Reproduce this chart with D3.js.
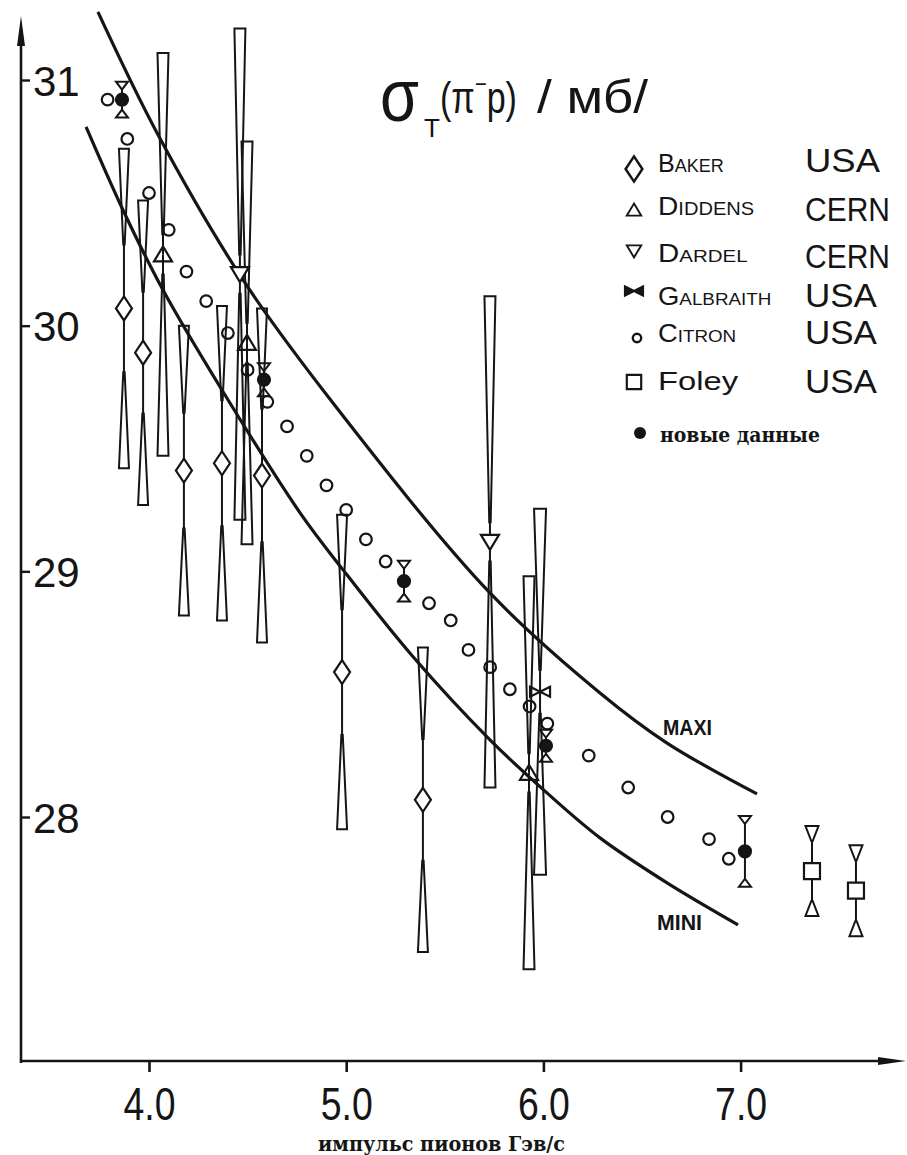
<!DOCTYPE html>
<html><head><meta charset="utf-8">
<script src="https://cdn.jsdelivr.net/npm/d3@7"></script>
<style>body{margin:0;background:#fff} svg{display:block}</style>
</head><body><svg id="c" width="907" height="1155"></svg>
<script>
// ---------- data ----------
const yTicks = [28, 29, 30, 31];
const yTickLabels = ["28", "29", "30", "31"];
const xTicks = [4, 5, 6, 7];
const xTickLabels = ["4.0", "5.0", "6.0", "7.0"];

const bakerP = [3.873, 3.970, 4.177, 4.370, 4.573, 4.979, 5.389];
const bakerS = [30.07, 29.89, 29.41, 29.44, 29.39, 28.59, 28.07];
const bakerE = [0.65, 0.62, 0.59, 0.64, 0.68, 0.64, 0.62];

const diddensP = [4.071, 4.497, 5.927];
const diddensS = [30.29, 29.93, 28.18];
const diddensE = [0.82, 0.82, 0.80];

const dardelP = [4.461, 5.729];
const dardelS = [30.21, 29.12];
const dardelE = [1.00, 1.00];

const galbraithP = [5.983];
const galbraithS = [28.51];
const galbraithE = [0.745];

const citronP = [3.79, 3.89, 4.00, 4.10, 4.19, 4.29, 4.40, 4.50, 4.60, 4.70, 4.80, 4.90, 5.00, 5.10, 5.20,
                 5.42, 5.53, 5.62, 5.73, 5.83, 5.93, 6.02, 6.23, 6.43, 6.63, 6.84, 6.94];
const citronS = [30.92, 30.76, 30.54, 30.39, 30.22, 30.10, 29.97, 29.82, 29.69, 29.59, 29.47, 29.35, 29.25, 29.13, 29.04,
                 28.87, 28.80, 28.68, 28.61, 28.52, 28.45, 28.38, 28.25, 28.12, 28.00, 27.91, 27.83];

const foleyP = [7.362, 7.585];
const foleyS = [27.78, 27.70];
const foleyE = [0.183, 0.185];

const newP = [3.863, 4.583, 5.293, 6.013, 7.022];
const newS = [30.92, 29.78, 28.96, 28.29, 27.86];
const newE = [0.073, 0.067, 0.083, 0.065, 0.144];

const maxiP = [3.741, 4.041, 4.477, 4.933, 5.729, 6.287, 6.627, 7.083];
const maxiS = [31.277, 30.784, 30.186, 29.685, 28.912, 28.505, 28.301, 28.094];
const miniP = [3.681, 3.868, 4.071, 4.370, 4.766, 4.984, 5.339, 5.729, 6.018, 6.287, 6.627, 6.987];
const miniS = [30.809, 30.471, 30.145, 29.738, 29.238, 29.006, 28.652, 28.314, 28.098, 27.915, 27.732, 27.561];

const legendNames = ["Baker", "Diddens", "Dardel", "Galbraith", "Citron", "Foley"];
const legendLabs = ["USA", "CERN", "CERN", "USA", "USA", "USA"];
const newDataLabel = "новые данные";
const xTitle = "импульс пионов Гэв/с";

// ---------- drawing ----------
const INK = "#151515";
const svg = d3.select("#c");
svg.append("rect").attr("width", 907).attr("height", 1155).attr("fill", "#fff");

const x = d3.scaleLinear().domain([4, 7]).range([149, 740.6]);
const y = d3.scaleLinear().domain([28, 31]).range([817, 80]);
const AX = 21, AY = 1061;
const font = "'Liberation Sans', Arial, sans-serif";

// squeeze a text horizontally to a given width (keeps glyph height)
function fit(sel, w) {
  const n = sel.node().getComputedTextLength();
  const x0 = +sel.attr("x"), y0 = +sel.attr("y");
  sel.attr("x", 0).attr("y", 0)
    .attr("transform", `translate(${x0},${y0}) scale(${(w / n).toFixed(4)},1)`);
  return sel;
}

// axes lines with arrows
svg.append("line").attr("x1", AX).attr("y1", AY + 2).attr("x2", AX).attr("y2", 30)
  .attr("stroke", INK).attr("stroke-width", 2.6);
svg.append("path").attr("d", `M${AX},16L${AX + 4},46L${AX - 4},46Z`).attr("fill", INK);
svg.append("line").attr("x1", AX - 1).attr("y1", AY).attr("x2", 885).attr("y2", AY)
  .attr("stroke", INK).attr("stroke-width", 2.6);
svg.append("path").attr("d", `M906,${AY}L878,${AY - 4}L878,${AY + 4}Z`).attr("fill", INK);

const yAxis = svg.append("g").attr("transform", `translate(${AX},0)`)
  .call(d3.axisRight(y).tickValues(yTicks).tickSize(9).tickPadding(3)
    .tickFormat((d, i) => yTickLabels[i]));
yAxis.select(".domain").remove();
yAxis.selectAll(".tick line").attr("stroke", INK).attr("stroke-width", 2.4);
yAxis.selectAll(".tick text").attr("font-family", font).attr("font-size", 42)
  .attr("fill", INK).attr("dy", "0.36em");

const xAxis = svg.append("g").attr("transform", `translate(0,${AY})`)
  .call(d3.axisBottom(x).tickValues(xTicks).tickSize(11).tickPadding(15)
    .tickFormat((d, i) => xTickLabels[i]));
xAxis.select(".domain").remove();
xAxis.selectAll(".tick line").attr("stroke", INK).attr("stroke-width", 2.6);
xAxis.selectAll(".tick text").attr("font-family", font).attr("font-size", 46)
  .attr("fill", INK).attr("textLength", 52).attr("lengthAdjust", "spacingAndGlyphs");

// theory curves
const line = d3.line().x(d => x(d[0])).y(d => y(d[1])).curve(d3.curveCatmullRom.alpha(0.5));
svg.append("path").attr("d", line(maxiP.map((p, i) => [p, maxiS[i]])))
  .attr("fill", "none").attr("stroke", INK).attr("stroke-width", 3.2);
svg.append("path").attr("d", line(miniP.map((p, i) => [p, miniS[i]])))
  .attr("fill", "none").attr("stroke", INK).attr("stroke-width", 3.2);

fit(svg.append("text").attr("x", 663).attr("y", 735).text("MAXI")
  .attr("font-family", font).attr("font-weight", "bold").attr("font-size", 22).attr("fill", INK), 49);
fit(svg.append("text").attr("x", 657).attr("y", 930).text("MINI")
  .attr("font-family", font).attr("font-weight", "bold").attr("font-size", 22).attr("fill", INK), 45);

function zip(P, S, E) { return P.map((p, i) => ({ p, s: S[i], e: E ? E[i] : 0 })); }

const gBars = svg.append("g").attr("stroke", INK).attr("fill", "none")
  .attr("stroke-width", 2).attr("stroke-linejoin", "miter");

function errBars(data, capW, wedge) {
  data.forEach(d => {
    const cx = x(d.p), cy = y(d.s);
    [d.s + d.e, d.s - d.e].forEach(v => {
      const ye = y(v);
      const len = cy - ye;
      const wl = wedge(Math.abs(len)) * Math.sign(len);
      const yc = ye + wl;
      gBars.append("path")
        .attr("d", `M${cx - capW / 2},${ye}L${cx + capW / 2},${ye}L${cx + 0.7},${yc}L${cx - 0.7},${yc}Z`);
      gBars.append("line").attr("x1", cx).attr("y1", yc).attr("x2", cx).attr("y2", cy);
    });
  });
}

const baker = zip(bakerP, bakerS, bakerE);
const diddens = zip(diddensP, diddensS, diddensE);
const dardel = zip(dardelP, dardelS, dardelE);
const galbraith = zip(galbraithP, galbraithS, galbraithE);
const citron = zip(citronP, citronS);
const foley = zip(foleyP, foleyS, foleyE);
const fresh = zip(newP, newS, newE);

errBars(baker, 10, L => 0.6 * L);
errBars(diddens, 11, L => 0.9 * L);
errBars(dardel, 11, L => 0.92 * L);
errBars(galbraith, 12, L => 0.88 * L);
errBars(foley, 13, L => 15);
errBars(fresh, 12, L => 7);

// marker shapes
const shapes = {
  diamond: "M0,-12L8,0L0,12L-8,0Z",
  up: "M0,-8L9,7L-9,7Z",
  down: "M0,8L9,-7L-9,-7Z",
  bow: "M-10,-5L10,5L10,-5L-10,5Z",
  square: "M-8,-8L8,-8L8,8L-8,8Z"
};
const gM = svg.append("g").attr("stroke", INK).attr("stroke-width", 2.2);
function markers(data, shape, fill) {
  gM.selectAll(null).data(data).enter().append("path")
    .attr("d", shapes[shape])
    .attr("transform", d => `translate(${x(d.p)},${y(d.s)})`)
    .attr("fill", fill);
}
markers(baker, "diamond", "#fff");
markers(diddens, "up", "none");
markers(dardel, "down", "#fff");
markers(galbraith, "bow", "none");
markers(foley, "square", "#fff");
gM.selectAll(null).data(citron).enter().append("circle")
  .attr("cx", d => x(d.p)).attr("cy", d => y(d.s)).attr("r", 5.8).attr("fill", "none");
gM.selectAll(null).data(fresh).enter().append("circle")
  .attr("cx", d => x(d.p)).attr("cy", d => y(d.s)).attr("r", 6).attr("fill", INK);

// title  σ_T(π⁻p) /мб/
fit(svg.append("text").attr("x", 380).attr("y", 121).attr("fill", INK)
  .attr("font-family", font).attr("font-size", 74).text("σ"), 39);
svg.append("text").attr("x", 424).attr("y", 137).attr("fill", INK)
  .attr("font-family", font).attr("font-size", 26).text("T");
const par = svg.append("text").attr("x", 440).attr("y", 113).attr("fill", INK)
  .attr("font-family", font).attr("font-size", 44);
par.append("tspan").text("(π");
par.append("tspan").attr("font-size", 26).attr("dy", -20).text("−");
par.append("tspan").attr("dy", 20).text("p)");
fit(par, 77);
fit(svg.append("text").attr("x", 537).attr("y", 113).attr("fill", INK)
  .attr("font-family", font).attr("font-size", 46).text("/ мб/"), 111);

// legend
const legY = [169, 210, 251, 291, 338, 382];
const nameBase = [172, 215, 262, 305, 342, 390];
const nameW = [66, 97, 92, 118, 81, 80];
const labBase = [172, 221, 268, 307, 344, 393];
const labW = [75, 85, 85, 72, 72, 72];
const legShapes = ["diamond", "up", "down", "bow", null, "square"];
const legScale = [1.05, 0.8, 0.8, 0.9, 1, 0.9];
legendNames.forEach((nm, i) => {
  const mx = 634;
  if (legShapes[i]) {
    svg.append("path").attr("d", shapes[legShapes[i]])
      .attr("transform", `translate(${mx},${legY[i]}) scale(${legScale[i]})`)
      .attr("fill", legShapes[i] === "bow" ? INK : "none").attr("stroke", INK).attr("stroke-width", 2.4);
  } else {
    svg.append("circle").attr("cx", 637).attr("cy", legY[i]).attr("r", 4.2)
      .attr("fill", "none").attr("stroke", INK).attr("stroke-width", 2.4);
  }
  fit(svg.append("text").attr("x", 658).attr("y", nameBase[i]).text(nm)
    .attr("font-family", font).attr("font-size", 25)
    .style("font-variant", nm === "Foley" ? "normal" : "small-caps").attr("fill", INK), nameW[i]);
  fit(svg.append("text").attr("x", 805).attr("y", labBase[i]).text(legendLabs[i])
    .attr("font-family", font).attr("font-size", 34).attr("fill", INK), labW[i]);
});
svg.append("circle").attr("cx", 640).attr("cy", 433).attr("r", 6).attr("fill", INK);
fit(svg.append("text").attr("x", 660).attr("y", 442).text(newDataLabel)
  .attr("font-family", "'DejaVu Serif', serif").attr("font-weight", "bold").attr("font-size", 21)
  .attr("fill", INK), 160);

// x-axis title
fit(svg.append("text").attr("x", 318).attr("y", 1151).text(xTitle)
  .attr("font-family", "'DejaVu Serif', serif").attr("font-weight", "bold").attr("font-size", 21)
  .attr("fill", INK), 247);
</script>
</body></html>
